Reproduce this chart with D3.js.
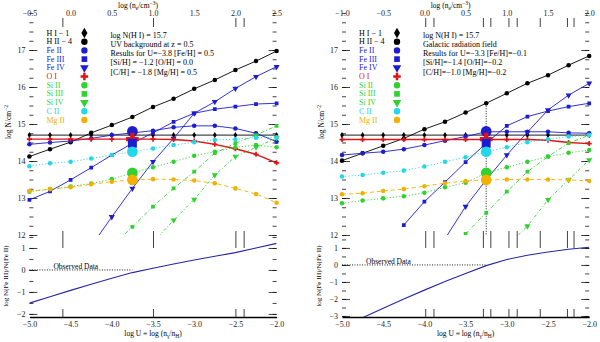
<!DOCTYPE html>
<html>
<head>
<meta charset="utf-8">
<script src="https://cdn.jsdelivr.net/npm/d3@7"></script>
<style>
body { margin: 0; background: #fff; }
text { font-family: "Liberation Serif", "DejaVu Serif", serif; }
</style>
</head>
<body>
<svg id="chart" width="600" height="342"></svg>
<script>
// model grid
var logU = [-5.0, -4.75, -4.5, -4.25, -4.0, -3.75, -3.5, -3.25, -3.0, -2.75, -2.5, -2.25, -2.0];
var ions = ["H I \u2212 1", "H II \u2212 4", "Fe II", "Fe III", "Fe IV", "O I", "Si II", "Si III", "Si IV", "C II", "Mg II"];

// left panel : UV background
var uvHI    = [14.70, 14.70, 14.70, 14.70, 14.70, 14.70, 14.70, 14.70, 14.70, 14.70, 14.70, 14.70, 14.70];
var uvHII   = [14.12, 14.32, 14.51, 14.76, 14.97, 15.19, 15.46, 15.68, 15.95, 16.19, 16.46, 16.70, 16.97];
var uvFeII  = [14.45, 14.50, 14.54, 14.61, 14.70, 14.76, 14.82, 14.91, 14.95, 14.95, 14.88, 14.75, 14.52];
var uvFeIII = [12.95, 13.18, 13.49, 13.82, 14.16, 14.48, 14.76, 15.06, 15.29, 15.40, 15.47, 15.54, 15.56];
var uvFeIV  = [null, null, null, 11.70, 12.49, 13.26, 13.98, 14.61, 15.29, 15.60, 15.96, 16.28, 16.55];
var uvOI    = [14.59, 14.59, 14.59, 14.59, 14.59, 14.59, 14.59, 14.58, 14.54, 14.45, 14.33, 14.18, 13.95];
var uvSiII  = [13.17, 13.24, 13.31, 13.39, 13.51, 13.68, 13.83, 13.98, 14.14, 14.25, 14.37, 14.43, 14.37];
var uvSiIII = [null, null, null, null, 11.70, 12.22, 12.77, 13.26, 13.71, 14.21, 14.48, 14.70, 14.95];
var uvSiIV  = [null, null, null, null, null, null, 11.80, 12.40, 12.96, 13.62, 14.12, 14.37, 14.62];
var uvCII   = [13.86, 13.94, 13.98, 14.07, 14.16, 14.25, 14.34, 14.43, 14.51, 14.57, 14.59, 14.63, 14.64];
var uvMgII  = [13.19, 13.24, 13.29, 13.37, 13.44, 13.49, 13.51, 13.50, 13.47, 13.40, 13.26, 13.11, 12.87];
var uvRatio = [-1.51, -1.22, -0.93, -0.65, -0.38, -0.12, 0.08, 0.27, 0.45, 0.62, 0.79, 1.00, 1.21];

// right panel : Galactic radiation field
var galHI    = [14.70, 14.70, 14.70, 14.70, 14.70, 14.70, 14.70, 14.70, 14.70, 14.70, 14.70, 14.70, 14.70];
var galHII   = [14.01, 14.21, 14.41, 14.61, 14.86, 15.06, 15.31, 15.56, 15.83, 16.10, 16.32, 16.59, 16.84];
var galFeII  = [14.16, 14.21, 14.25, 14.32, 14.43, 14.55, 14.66, 14.79, 14.79, 14.79, 14.79, 14.76, 14.75];
var galFeIII = [null, null, null, 12.27, 12.90, 13.43, 13.97, 14.48, 14.95, 15.20, 15.35, 15.47, 15.56];
var galFeIV  = [null, null, null, null, null, 11.90, 12.77, 13.49, 14.16, 14.78, 15.38, 15.78, 16.10];
var galOI    = [14.58, 14.58, 14.58, 14.58, 14.58, 14.58, 14.58, 14.58, 14.58, 14.58, 14.56, 14.50, 14.47];
var galSiII  = [12.86, 12.93, 12.99, 13.05, 13.14, 13.29, 13.41, 13.68, 13.83, 13.98, 14.12, 14.22, 14.30];
var galSiIII = [null, null, null, null, null, null, 12.03, 12.60, 13.17, 13.71, 14.12, 14.48, 14.70];
var galSiIV  = [null, null, null, null, null, null, null, null, 11.70, 12.24, 12.95, 13.49, 14.03];
var galCII   = [13.58, 13.62, 13.68, 13.74, 13.85, 13.98, 14.10, 14.25, 14.37, 14.51, 14.59, 14.66, 14.70];
var galMgII  = [13.10, 13.13, 13.19, 13.24, 13.32, 13.40, 13.46, 13.49, 13.50, 13.50, 13.50, 13.49, 13.46];
var galRatio = [-3.70, -3.10, -2.55, -2.00, -1.48, -0.98, -0.50, -0.04, 0.32, 0.57, 0.76, 0.92, 1.04];

// observed columns
var obsIons = ["Fe II", "O I", "Fe III", "C II", "Si II", "Mg II"];
var obsCols = [14.80, 14.59, 14.48, 14.25, 13.68, 13.49];
var obsRatio = 0;

// axis labels
var nLabels = [12, 13, 14, 15, 16, 17];
var uTicks = [-5.0, -4.5, -4.0, -3.5, -3.0, -2.5, -2.0];
var neLabelsUV  = ["\u22120.5", "0.0", "0.5", "1.0", "1.5", "2.0", "2.5"];
var neLabelsGal = ["\u22121.0", "\u22120.5", "0.0", "0.5", "1.0", "1.5", "2.0"];
var neTicksUV  = [-4.6, -3.5, -2.5, -2.4];
var neTicksGal = [-3.99, -3.89, -3.29, -3.2, -2.98, -2.88, -2.6, -2.27, -2.19];

var notesUV  = ["log N(H I) = 15.7", "UV background at z = 0.5", "Results for U=\u22123.8 [Fe/H] = 0.5",
                "[Si/H] = \u22121.2 [O/H] = 0.0", "[C/H] = \u22121.8 [Mg/H] = 0.5"];
var notesGal = ["log N(H I) = 15.7", "Galactic radiation field", "Results for U=\u22123.3 [Fe/H]=\u22120.1",
                "[Si/H]=\u22121.4 [O/H]=\u22120.2", "[C/H]=\u22121.0 [Mg/H]=\u22120.2"];

var blue = "#1c1cd0", green = "#2fd22f", cyan = "#20d8e8", orange = "#f2b000", red = "#e01414";
var ionStyle = {
  "H I \u2212 1":  {c: "#000", sym: d3.symbolDiamond, s: 12, dash: null, w: 0.9},
  "H II \u2212 4": {c: "#000", sym: d3.symbolCircle, s: 16, dash: null, w: 0.9},
  "Fe II":  {c: blue, sym: d3.symbolCircle, s: 16, dash: null, w: 0.9},
  "Fe III": {c: blue, sym: d3.symbolSquare, s: 14, dash: null, w: 0.9},
  "Fe IV":  {c: blue, sym: d3.symbolTriangle, s: 16, down: true, dash: null, w: 0.9},
  "O I":    {c: red, sym: d3.symbolCross, s: 14, dash: null, w: 1.4},
  "Si II":  {c: green, sym: d3.symbolCircle, s: 16, dash: "1.2,2", w: 0.9},
  "Si III": {c: green, sym: d3.symbolSquare, s: 14, dash: "4,2,1,2", w: 0.9},
  "Si IV":  {c: green, sym: d3.symbolTriangle, s: 16, down: true, dash: "3,2,1,2", w: 0.9},
  "C II":   {c: cyan, sym: d3.symbolCircle, s: 16, dash: "1.2,2", w: 0.9},
  "Mg II":  {c: orange, sym: d3.symbolCircle, s: 16, dash: "4,3", w: 0.9}
};

var panels = [
  {x0: 29.4, x1: 276.6, series: [uvHI, uvHII, uvFeII, uvFeIII, uvFeIV, uvOI, uvSiII, uvSiIII, uvSiIV, uvCII, uvMgII],
   ratio: uvRatio, ratioDom: [-2.14, 1.59], ratioTicks: [-2, -1, 0, 1], obsU: -3.75, vline: false,
   notes: notesUV, ne: neLabelsUV, neTicks: neTicksUV},
  {x0: 342, x1: 589.2, series: [galHI, galHII, galFeII, galFeIII, galFeIV, galOI, galSiII, galSiIII, galSiIV, galCII, galMgII],
   ratio: galRatio, ratioDom: [-3.06, 1.76], ratioTicks: [-3, -2, -1, 0, 1], obsU: -3.25, vline: true,
   notes: notesGal, ne: neLabelsGal, neTicks: neTicksGal}
];

var svg = d3.select("#chart");
var yTop = d3.scaleLinear().domain([12, 18]).range([235, 13]);
var lowTop = 235, lowBot = 317;

function sym(st, size) {
  return d3.symbol().type(st.sym).size(size)();
}
function noDomain(g) { g.select(".domain").remove(); }

panels.forEach(function(p, pi) {
  var x = d3.scaleLinear().domain([-5, -2]).range([p.x0, p.x1]);
  var yLow = d3.scaleLinear().domain(p.ratioDom).range([lowBot, lowTop]);
  var g = svg.append("g");

  var cu = "clipU" + pi, cl = "clipL" + pi;
  var defs = svg.append("defs");
  defs.append("clipPath").attr("id", cu).append("rect")
    .attr("x", p.x0 - 6).attr("y", 13).attr("width", p.x1 - p.x0 + 12).attr("height", 235 - 13);
  defs.append("clipPath").attr("id", cl).append("rect")
    .attr("x", p.x0).attr("y", lowTop).attr("width", p.x1 - p.x0).attr("height", lowBot - lowTop);

  // ---- upper panel axes
  var minorN = d3.range(12, 18.01, 0.25);
  g.append("g").attr("transform", "translate(" + p.x0 + ",0)")
    .call(d3.axisLeft(yTop).tickValues(minorN).tickSize(-4).tickFormat("")).call(noDomain);
  g.append("g").attr("transform", "translate(" + p.x0 + ",0)")
    .call(d3.axisLeft(yTop).tickValues(nLabels).tickSize(-8).tickPadding(4).tickFormat(d3.format("d"))).call(noDomain);
  g.append("g").attr("transform", "translate(" + p.x1 + ",0)")
    .call(d3.axisRight(yTop).tickValues(minorN).tickSize(-4).tickFormat("")).call(noDomain);
  g.append("g").attr("transform", "translate(" + p.x1 + ",0)")
    .call(d3.axisRight(yTop).tickValues(nLabels).tickSize(-8).tickFormat("")).call(noDomain);

  // ---- lower panel axes
  var minorR = d3.range(Math.ceil(p.ratioDom[0] * 2) / 2, p.ratioDom[1], 0.5);
  g.append("g").attr("transform", "translate(" + p.x0 + ",0)")
    .call(d3.axisLeft(yLow).tickValues(minorR).tickSize(-4).tickFormat("")).call(noDomain);
  g.append("g").attr("transform", "translate(" + p.x0 + ",0)")
    .call(d3.axisLeft(yLow).tickValues(p.ratioTicks).tickSize(-8).tickPadding(4).tickFormat(d3.format("d"))).call(noDomain);
  g.append("g").attr("transform", "translate(" + p.x1 + ",0)")
    .call(d3.axisRight(yLow).tickValues(minorR).tickSize(-4).tickFormat("")).call(noDomain);
  g.append("g").attr("transform", "translate(" + p.x1 + ",0)")
    .call(d3.axisRight(yLow).tickValues(p.ratioTicks).tickSize(-8).tickFormat("")).call(noDomain);

  // bottom axis: line + n_e ticks, logU labels
  g.append("g").attr("transform", "translate(0," + lowBot + ")")
    .call(d3.axisBottom(x).tickValues(p.neTicks).tickSize(-8).tickFormat("").tickSizeOuter(0))
    .call(function(a) { a.select(".domain").attr("stroke-width", 1.4); });
  g.append("g").attr("transform", "translate(0," + lowBot + ")")
    .call(d3.axisBottom(x).tickValues(uTicks).tickSize(0).tickPadding(4).tickFormat(d3.format(".1f"))).call(noDomain);
  // mid ticks between panels
  g.append("g").attr("transform", "translate(0,231)")
    .call(d3.axisBottom(x).tickValues(p.neTicks).tickSize(17).tickFormat("")).call(noDomain);
  // top axis
  g.append("g").attr("transform", "translate(0,18)")
    .call(d3.axisTop(x).tickValues(p.neTicks).tickSize(-9).tickFormat("")).call(noDomain);
  g.append("g").attr("transform", "translate(0,18)")
    .call(d3.axisTop(x).tickValues(uTicks).tickSize(0).tickPadding(2)
      .tickFormat(function(d, i) { return p.ne[i]; })).call(noDomain);

  g.selectAll(".tick text").attr("font-size", 8).attr("font-family", "Liberation Serif, serif").attr("fill", "#222");
  g.selectAll(".tick line").attr("stroke", "#111").attr("stroke-width", 0.8);

  // axis titles
  var cx = (p.x0 + p.x1) / 2;
  var t1 = g.append("text").attr("x", cx - 15).attr("y", 8).attr("text-anchor", "middle").attr("font-size", 7.5);
  t1.append("tspan").text("log (n");
  t1.append("tspan").attr("font-size", 5.5).attr("dy", 2).text("e");
  t1.append("tspan").attr("dy", -2).text("/cm");
  t1.append("tspan").attr("font-size", 5.5).attr("dy", -3).text("\u22123");
  t1.append("tspan").attr("dy", 3).text(")");

  var t2 = g.append("text").attr("x", cx).attr("y", 336).attr("text-anchor", "middle").attr("font-size", 7.5);
  t2.append("tspan").text("log U \u2261 log (n");
  t2.append("tspan").attr("font-size", 5.5).attr("dy", 2).text("\u03b3");
  t2.append("tspan").attr("dy", -2).text("/n");
  t2.append("tspan").attr("font-size", 5.5).attr("dy", 2).text("H");
  t2.append("tspan").attr("dy", -2).text(")");

  var t3 = g.append("text").attr("transform", "translate(" + (p.x0 - 18) + ",122) rotate(-90)")
    .attr("text-anchor", "middle").attr("font-size", 7.5);
  t3.append("tspan").text("log N/cm");
  t3.append("tspan").attr("font-size", 5.5).attr("dy", -3).text("\u22122");

  g.append("text").attr("transform", "translate(" + (p.x0 - 21) + ",276) rotate(-90)")
    .attr("text-anchor", "middle").attr("font-size", 7).text("log N(Fe III)/N(Fe II)");

  // ---- lower panel: ratio curve and observed value
  var pts = logU.map(function(u, i) { return [u, p.ratio[i]]; });
  g.append("path").datum(pts).attr("clip-path", "url(#" + cl + ")")
    .attr("fill", "none").attr("stroke", "#2626a6").attr("stroke-width", 1.1)
    .attr("d", d3.line().x(function(d) { return x(d[0]); }).y(function(d) { return yLow(d[1]); }));
  g.append("line").attr("x1", x(-5)).attr("x2", x(p.obsU))
    .attr("y1", yLow(obsRatio)).attr("y2", yLow(obsRatio))
    .attr("stroke", "#000").attr("stroke-width", 0.9).attr("stroke-dasharray", "1,1.5");
  g.append("text").attr("x", p.x0 + 24).attr("y", yLow(obsRatio) - 1)
    .attr("font-size", 7.5).text("Observed Data");

  // ---- upper panel: model curves
  var up = g.append("g").attr("clip-path", "url(#" + cu + ")");
  if (p.vline) {
    var k = logU.indexOf(p.obsU);
    up.append("line").attr("x1", x(p.obsU)).attr("x2", x(p.obsU))
      .attr("y1", yTop(p.series[1][k])).attr("y2", 235)
      .attr("stroke", "#000").attr("stroke-width", 0.9).attr("stroke-dasharray", "1,1.5");
  }
  var line = d3.line().defined(function(d) { return d[1] != null; })
    .x(function(d) { return x(d[0]); }).y(function(d) { return yTop(d[1]); });

  ions.forEach(function(ion, j) {
    var st = ionStyle[ion];
    var data = logU.map(function(u, i) { return [u, p.series[j][i]]; });
    up.append("path").datum(data).attr("fill", "none")
      .attr("stroke", st.c).attr("stroke-width", st.w)
      .attr("stroke-dasharray", st.dash).attr("d", line);
    up.selectAll(null).data(data.filter(function(d) { return d[1] != null; }))
      .enter().append("path")
      .attr("d", sym(st, st.s))
      .attr("fill", st.c)
      .attr("transform", function(d) {
        return "translate(" + x(d[0]) + "," + yTop(d[1]) + ")" + (st.down ? " rotate(180)" : "");
      });
  });

  // observed columns, big markers
  obsIons.forEach(function(ion, j) {
    var st = ionStyle[ion];
    up.append("path").attr("d", sym(st, st.sym === d3.symbolSquare ? 80 : 90))
      .attr("fill", st.c)
      .attr("transform", "translate(" + x(p.obsU) + "," + yTop(obsCols[j]) + ")");
  });

  // ---- legend
  var lg = g.append("g");
  ions.forEach(function(ion, j) {
    var st = ionStyle[ion];
    var yy = 33 + j * 8.7;
    lg.append("text").attr("x", p.x0 + 17).attr("y", yy + 2.5).attr("font-size", 8)
      .attr("fill", st.c).text(ion);
    lg.append("path").attr("d", sym(st, 32)).attr("fill", st.c)
      .attr("transform", "translate(" + (p.x0 + 55) + "," + yy + ")" + (st.down ? " rotate(180)" : ""));
  });

  // ---- notes
  p.notes.forEach(function(s, j) {
    g.append("text").attr("x", p.x0 + 81).attr("y", 37.5 + j * 9.3)
      .attr("font-size", 8).text(s);
  });
});
</script>
</body>
</html>
